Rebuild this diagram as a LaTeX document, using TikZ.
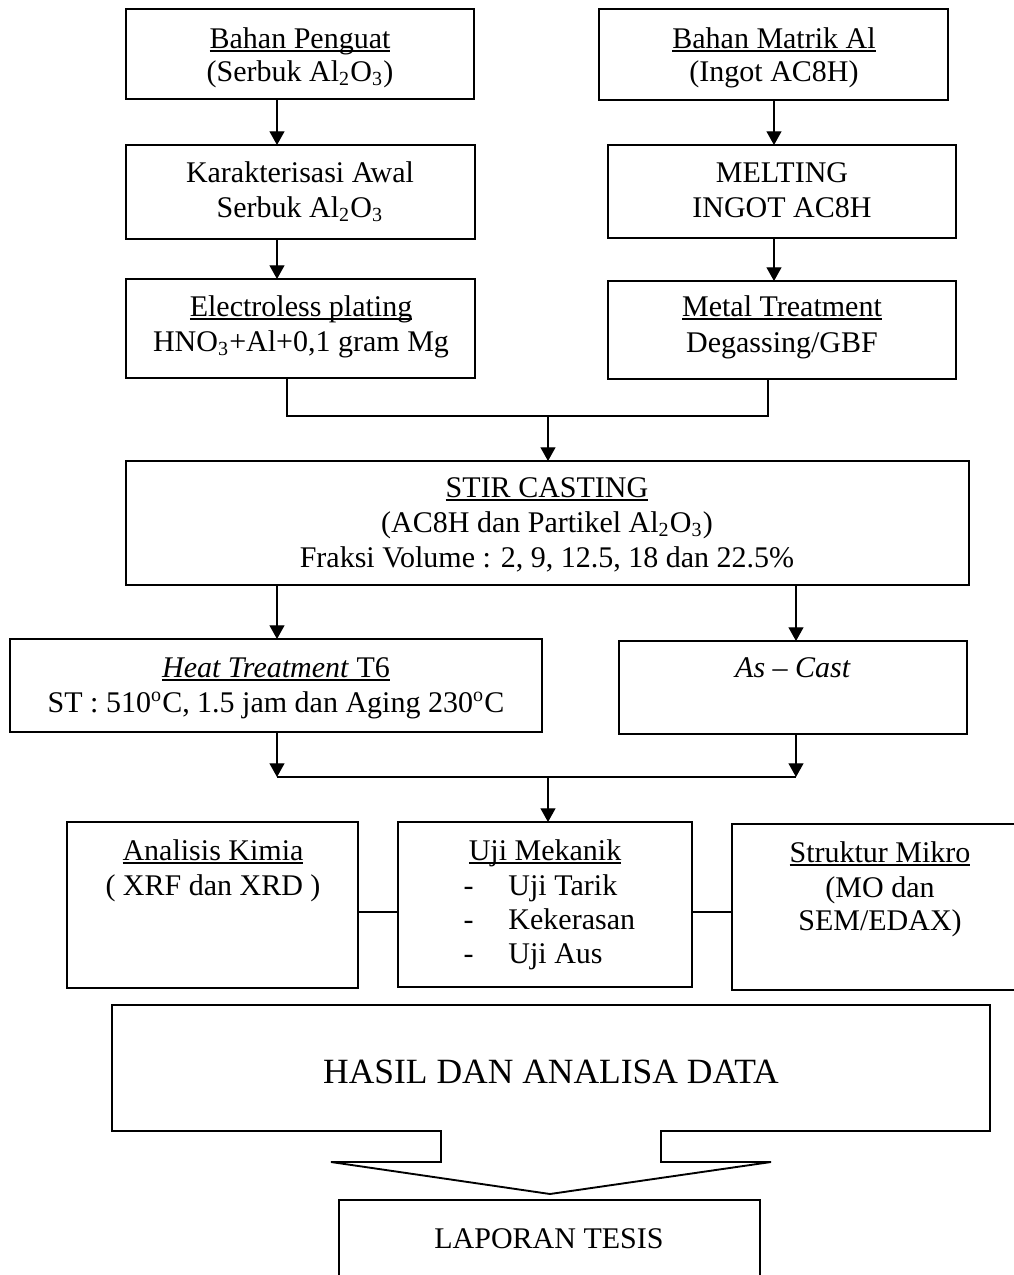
\documentclass[tikz,border=0pt]{standalone}
\usepackage{fontspec}
\setmainfont{Liberation Serif}
\usetikzlibrary{arrows.meta,fit}
\newcommand\ulx[1]{\setbox0\hbox{#1}\rlap{\rule[-1.4pt]{\wd0}{0.5pt}}\box0}
\tikzset{
  boxst/.style={draw, line width=0.75pt, inner sep=0pt, outer sep=0pt},
  txt/.style={anchor=base, inner sep=0pt, font=\fontsize{12pt}{13.8pt}\selectfont},
  txtl/.style={anchor=base west, inner sep=0pt, font=\fontsize{12pt}{13.8pt}\selectfont},
  con/.style={line width=0.55pt},
  arr/.style={con, -{Triangle[width=6pt,length=5.5pt]}}
}
\begin{document}
\begin{tikzpicture}[x=0.4pt, y=-0.4pt]
\useasboundingbox (0,0) rectangle (1014,1275);
\clip (0,0) rectangle (1014,1275);

% column coordinates
\coordinate (xa) at (277,0);
\coordinate (xb) at (774,0);
\coordinate (xc) at (287,0);
\coordinate (xd) at (768,0);
\coordinate (xm) at (548,0);
\coordinate (xe) at (796,0);
\coordinate (yj1) at (0,416);
\coordinate (yj2) at (0,777);
\coordinate (yc) at (0,912);

% row 1
\node[boxst, fit={(126,9)(474,99)}] (b1) {};
\node[txt] (b1a) at (300,48) {\ulx{Bahan Penguat}};
\node[txt] (b1b) at (300,81) {(Serbuk Al\textsubscript{2}O\textsubscript{3})};
\node[boxst, fit={(599,9)(948,100)}] (b2) {};
\node[txt] (b2a) at (774,48) {\ulx{Bahan Matrik Al}};
\node[txt] (b2b) at (774,81) {(Ingot AC8H)};

% row 2
\node[boxst, fit={(126,145)(475,239)}] (b3) {};
\node[txt] (b3a) at (300,182) {Karakterisasi Awal};
\node[txt] (b3b) at (300,217) {Serbuk Al\textsubscript{2}O\textsubscript{3}};
\node[boxst, fit={(608,145)(956,238)}] (b4) {};
\node[txt] (b4a) at (782,182) {MELTING};
\node[txt] (b4b) at (782,217) {INGOT AC8H};

% row 3
\node[boxst, fit={(126,279)(475,378)}] (b5) {};
\node[txt] (b5a) at (301,316) {\ulx{Electroless plating}};
\node[txt] (b5b) at (301,351) {HNO\textsubscript{3}+Al+0,1 gram Mg};
\node[boxst, fit={(608,281)(956,379)}] (b6) {};
\node[txt] (b6a) at (782,316) {\ulx{Metal Treatment}};
\node[txt] (b6b) at (782,352) {Degassing/GBF};

% stir casting
\node[boxst, fit={(126,461)(969,585)}] (b7) {};
\node[txt] (b7a) at (547,497) {\ulx{STIR CASTING}};
\node[txt] (b7b) at (547,532) {(AC8H dan Partikel Al\textsubscript{2}O\textsubscript{3})};
\node[txt] (b7c) at (547,567) {Fraksi Volume : 2, 9, 12.5, 18 dan 22.5\%};

% heat treatment / as cast
\node[boxst, fit={(10,639)(542,732)}] (b8) {};
\node[txt] (b8a) at (276,677) {\ulx{\textit{Heat Treatment} T6}};
\node[txt] (b8b) at (276,712) {ST : 510\textsuperscript{o}C, 1.5 jam dan Aging 230\textsuperscript{o}C};
\node[boxst, fit={(619,641)(967,734)}] (b9) {};
\node[txt] (b9a) at (793,677) {\textit{As -- Cast}};

% tests
\node[boxst, fit={(67,822)(358,988)}] (b10) {};
\node[txt] (b10a) at (213,860) {\ulx{Analisis Kimia}};
\node[txt] (b10b) at (213,895) {( XRF dan XRD )};
\node[boxst, fit={(398,822)(692,987)}] (b11) {};
\node[txt] (b11a) at (545,860) {\ulx{Uji Mekanik}};
\node[txtl] (b11b) at (463,895) {\makebox[18pt][l]{-}Uji Tarik};
\node[txtl] (b11c) at (463,929) {\makebox[18pt][l]{-}Kekerasan};
\node[txtl] (b11d) at (463,963) {\makebox[18pt][l]{-}Uji Aus};
\node[boxst, fit={(732,824)(1028,990)}] (b12) {};
\node[txt] (b12a) at (880,862) {\ulx{Struktur Mikro}};
\node[txt] (b12b) at (880,897) {(MO dan};
\node[txt] (b12c) at (880,930) {SEM/EDAX)};

% result callout arrow
\draw[line width=0.75pt] (112,1005) -- (990,1005) -- (990,1131) -- (661,1131) -- (661,1162)
  -- (771,1162) -- (550,1194) -- (331,1162) -- (441,1162) -- (441,1131) -- (112,1131) -- cycle;
\node[anchor=base, inner sep=0pt, font=\fontsize{14.2pt}{16pt}\selectfont] (b13) at (551,1083) {HASIL DAN ANALISA DATA};

% report box (open at bottom)
\node[inner sep=0pt, outer sep=0pt, fit={(339,1200)(760,1300)}] (b14) {};
\draw[line width=0.75pt] (b14.south west) -- (b14.north west) -- (b14.north east) -- (b14.south east);
\node[txt] (b14a) at (549,1248) {LAPORAN TESIS};

% connectors
\draw[arr] (b1.south -| xa) -- (b3.north -| xa);
\draw[arr] (b2.south -| xb) -- (b4.north -| xb);
\draw[arr] (b3.south -| xa) -- (b5.north -| xa);
\draw[arr] (b4.south -| xb) -- (b6.north -| xb);
\draw[con] (b5.south -| xc) -- (xc |- yj1) -- (xd |- yj1) -- (b6.south -| xd);
\draw[arr] (xm |- yj1) -- (b7.north -| xm);
\draw[arr] (b7.south -| xa) -- (b8.north -| xa);
\draw[arr] (b7.south -| xe) -- (b9.north -| xe);
\draw[arr] (b8.south -| xa) -- (xa |- yj2);
\draw[arr] (b9.south -| xe) -- (xe |- yj2);
\draw[con] (xa |- yj2) -- (xe |- yj2);
\draw[arr] (xm |- yj2) -- (b11.north -| xm);
\draw[con] (b10.east |- yc) -- (b11.west |- yc);
\draw[con] (b11.east |- yc) -- (b12.west |- yc);
\end{tikzpicture}
\end{document}
